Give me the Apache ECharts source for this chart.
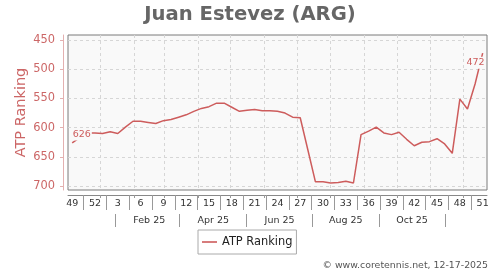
<!DOCTYPE html>
<html><head><meta charset="utf-8">
<script src="https://cdn.jsdelivr.net/npm/echarts@6/dist/echarts.min.js"></script>
<style>html,body{margin:0;padding:0;background:#fff}#c{width:500px;height:270px}</style>
</head><body><div id="c"></div>
<script>
// ---- data ----
const chartTitle = 'Juan Estevez (ARG)';
const seriesName = 'ATP Ranking';
const copyright = '\u00A9 www.coretennis.net, 12-17-2025';
// weekly rankings, week 49 (2024) .. week 51 (2025)
const ranking = [626,617,609,609,610,607,610,599,589,589,591,593,588,586,582,578,572,567,564,558,558,565,572,570,569,571,571,572,575,582,583,638,693,693,695,694,692,695,612,606,599,609,612,608,620,631,625,624,619,628,644,551,568,525,472];
const weekLabels = ['49','52','3','6','9','12','15','18','21','24','27','30','33','36','39','42','45','48','51'];
const monthLabels = ['Feb 25','Apr 25','Jun 25','Aug 25','Oct 25'];
const yTickValues = [450,500,550,600,650,700];
const firstWeekDate = [2024, 11, 6]; // date of first data point

// ---- helpers ----
const DAY = 86400000;
const t0 = Date.UTC(firstWeekDate[0], firstWeekDate[1], firstWeekDate[2]);
const toWeekIdx = (y, m, d) => (Date.UTC(y, m, d) - t0) / (7 * DAY);
const monthStarts = [];
for (let m = 0; m < 12; m++) monthStarts.push(toWeekIdx(2025, m, 1));
const monthLabelPos = monthLabels.map((_, k) => toWeekIdx(2025, 1 + 2 * k, 15));
const monthSeps = [0, 2, 4, 6, 8, 10].map(m => toWeekIdx(2025, m, 15));
const weekTickPos = weekLabels.map((_, k) => 3 * k);
const weekSeps = weekLabels.slice(1).map((_, k) => 3 * k + 1.5);

const lineColor = '#cd5c5c';
const labelColor = '#cc6666';
const last = ranking.length - 1;
const seriesData = ranking.map((v, i) => {
  if (i === 0) return { value: [i, v], symbol: 'circle', symbolSize: 0,
    label: { show: true, position: [-0.5, -14.3] } };
  if (i === last) return { value: [i, v], symbol: 'circle', symbolSize: 0,
    label: { show: true, position: [-17.2, 3.7] } };
  return [i, v];
});

const xMin = -0.55, xMax = last + 0.57;
const chart = echarts.init(document.getElementById('c'), null, { renderer: 'canvas' });
chart.setOption({
  animation: false,
  textStyle: { fontFamily: 'DejaVu Sans' },
  title: {
    text: chartTitle, left: 'center', top: 0,
    textStyle: { fontSize: 19.6, fontWeight: 'bold', color: '#666', fontFamily: 'DejaVu Sans' }
  },
  grid: {
    left: 68, top: 35, width: 419, height: 155, show: true,
    backgroundColor: '#f9f9f9', borderColor: '#7a7a7a', borderWidth: 1
  },
  legend: {
    data: [{ name: seriesName, icon: 'rect' }], left: 198, top: 230, padding: [6.5, 4, 6.5, 4],
    itemWidth: 15, itemHeight: 1.6, borderColor: '#aaa', borderWidth: 1,
    backgroundColor: '#fff',
    textStyle: { fontSize: 11.4, color: '#222', fontFamily: 'DejaVu Sans' }
  },
  xAxis: [
    { type: 'value', min: xMin, max: xMax, position: 'bottom', offset: 5,
      axisLine: { show: true, onZero: false, lineStyle: { color: '#888', width: 1 } },
      axisTick: { show: true, customValues: weekSeps, length: 15, lineStyle: { color: '#999' } },
      axisLabel: { customValues: weekTickPos, margin: 4, fontSize: 9.5, color: '#333',
        formatter: v => weekLabels[Math.round(v / 3)] },
      splitLine: { show: false } },
    { type: 'value', min: xMin, max: xMax, position: 'bottom', offset: 5,
      axisLine: { show: false, onZero: false },
      axisTick: { show: true, customValues: monthStarts, length: 3, lineStyle: { color: '#999' } },
      axisLabel: { show: false },
      splitLine: { show: true, lineStyle: { type: [3, 3], color: '#d6d6d6' } } },
    { type: 'value', min: xMin, max: xMax, position: 'bottom', offset: 24,
      axisLine: { show: false, onZero: false },
      axisTick: { show: true, customValues: monthSeps, length: 13, lineStyle: { color: '#999' } },
      axisLabel: { customValues: monthLabelPos, margin: 1.5, fontSize: 9.5, color: '#333',
        formatter: v => {
          let best = 0;
          monthLabelPos.forEach((p, k) => { if (Math.abs(p - v) < Math.abs(monthLabelPos[best] - v)) best = k; });
          return monthLabels[best];
        } },
      splitLine: { show: false } }
  ],
  yAxis: {
    type: 'value', inverse: true, min: 441, max: 707, offset: 5,
    name: seriesName, nameLocation: 'middle', nameGap: 34, nameMoveOverlap: false,
    nameTextStyle: { color: labelColor, fontSize: 14.5, fontFamily: 'DejaVu Sans' },
    axisLine: { show: true, onZero: false, lineStyle: { color: '#e3b0b0' } },
    axisTick: { show: true, customValues: yTickValues, length: 3, lineStyle: { color: '#e3b0b0' } },
    axisLabel: { customValues: yTickValues, color: labelColor, fontSize: 11.4, margin: 8 },
    splitLine: { show: true, lineStyle: { type: [3, 3], color: '#d6d6d6' } }
  },
  series: [{
    name: seriesName, type: 'line', xAxisIndex: 0, data: seriesData,
    symbol: 'none', showSymbol: true,
    lineStyle: { color: lineColor, width: 1.5 },
    itemStyle: { color: lineColor },
    label: { show: false, fontSize: 9.5, color: lineColor, backgroundColor: '#f9f9f9',
      padding: [1, 1], formatter: p => p.value[1] },
    emphasis: { disabled: true }
  }],
  graphic: [{
    type: 'text', x: 488, y: 266,
    style: { text: copyright, fontSize: 9.4, fill: '#555', fontFamily: 'DejaVu Sans',
      textAlign: 'right', textVerticalAlign: 'middle' }
  }]
});
</script></body></html>
